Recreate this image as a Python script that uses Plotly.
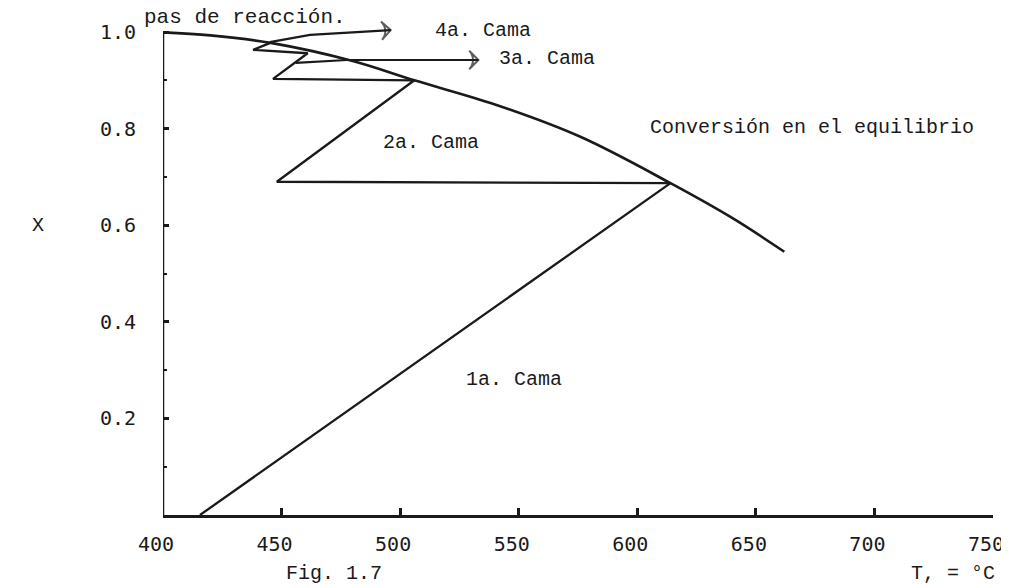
import plotly.graph_objects as go

# Equilibrium conversion curve (T in °C, X)
eq_T = [397, 420, 446, 480, 506, 540, 576, 614, 640, 662]
eq_X = [1.0, 0.993, 0.977, 0.94, 0.90, 0.85, 0.783, 0.687, 0.615, 0.545]

# Adiabatic beds + intercooling path
path_T = [415.6, 614, 448, 506, 446.4, 461, 438, 445]
path_X = [0.0, 0.687, 0.69, 0.90, 0.903, 0.956, 0.963, 0.977]

# Pointer arrows to bed labels
arrow4_T = [445, 462, 496]
arrow4_X = [0.979, 0.994, 1.004]
arrow3_T = [456, 477.6, 533]
arrow3_X = [0.936, 0.942, 0.942]

x_ticks = [400, 450, 500, 550, 600, 650, 700, 750]
y_ticks = [0.2, 0.4, 0.6, 0.8, 1.0]
y_ticklabels = ["0.2", "0.4", "0.6", "0.8", "1.0"]

INK = "#1a1a1a"
MONO = "Liberation Mono, Courier New, monospace"
TICKFONT = "DejaVu Sans Mono, monospace"

fig = go.Figure()
fig.add_trace(go.Scatter(x=eq_T, y=eq_X, mode="lines", line=dict(color=INK, width=2.6, shape="spline"),
                         cliponaxis=False, hoverinfo="skip"))
fig.add_trace(go.Scatter(x=path_T, y=path_X, mode="lines", line=dict(color=INK, width=2.3),
                         cliponaxis=False, hoverinfo="skip"))
for tx, ty in ((arrow4_T, arrow4_X), (arrow3_T, arrow3_X)):
    fig.add_trace(go.Scatter(x=tx, y=ty, mode="lines+markers", line=dict(color=INK, width=2.2),
                             marker=dict(symbol=["circle", "circle", "arrow-wide-open"], size=[0, 0, 13],
                                         angleref="previous", color=INK, line=dict(color=INK, width=2)),
                             cliponaxis=False, hoverinfo="skip"))

# vertical axis line only from X=0 to X=1.0
fig.add_shape(type="line", x0=400, x1=400, y0=0, y1=1.0, xref="x", yref="y",
              line=dict(color=INK, width=2.5))

def note(text, x, y, size=20, xanchor="center", font=MONO):
    fig.add_annotation(text=text, x=x, y=y, xref="x", yref="y", showarrow=False,
                       xanchor=xanchor, yanchor="middle", font=dict(family=font, size=size, color=INK))

note("pas de reacción.", 478, 1.031, size=21, xanchor="right")
note("4a. Cama", 514, 1.004, xanchor="left")
note("3a. Cama", 541, 0.946, xanchor="left")
note("2a. Cama", 513, 0.772)
note("Conversión en el equilibrio", 604.5, 0.802, xanchor="left")
note("1a. Cama", 548, 0.28)

fig.add_annotation(text="X", xref="paper", yref="y", x=-0.16, y=0.6, showarrow=False,
                   font=dict(family=MONO, size=20, color=INK))
fig.add_annotation(text="Fig. 1.7", xref="x", yref="paper", x=472, y=-0.1144, showarrow=False,
                   yanchor="middle", font=dict(family=MONO, size=20, color=INK))
fig.add_annotation(text="T, = °C", xref="paper", yref="paper", x=1.0048, y=-0.1144, showarrow=False,
                   xanchor="right", yanchor="middle", font=dict(family=MONO, size=20, color=INK))

fig.update_layout(
    width=1009, height=588,
    margin=dict(l=155, r=24, t=0, b=81),
    paper_bgcolor="white", plot_bgcolor="white",
    showlegend=False,
)
fig.update_xaxes(range=[400, 750], tickvals=x_ticks, ticks="inside", ticklen=7, tickwidth=2.5,
                 tickcolor=INK, showline=True, linecolor=INK, linewidth=2.5, showgrid=False,
                 zeroline=False, ticklabelstandoff=9, ticklabelshift=-7,
                 tickfont=dict(family=TICKFONT, size=20, color=INK))
fig.update_yaxes(range=[0, 1.0497], tickvals=y_ticks, ticktext=y_ticklabels, ticks="inside", ticklen=6,
                 tickwidth=3, tickcolor=INK, showline=False, showgrid=False, zeroline=False,
                 ticklabelstandoff=26,
                 minor=dict(tickvals=[0.1, 0.3, 0.5, 0.7, 0.9], ticks="inside", ticklen=4,
                            tickwidth=1.5, tickcolor=INK),
                 tickfont=dict(family=TICKFONT, size=20, color=INK))

fig.write_html("out.html")
